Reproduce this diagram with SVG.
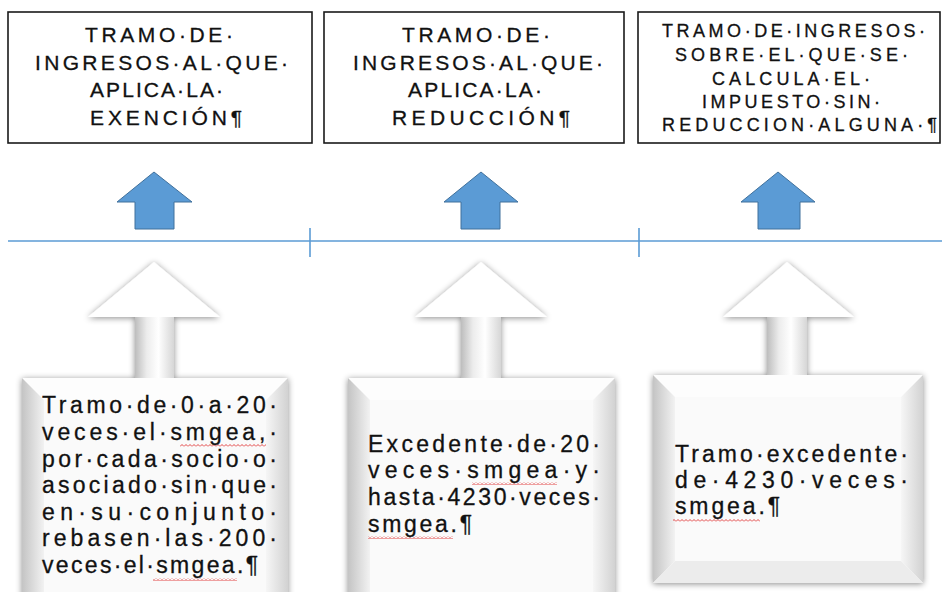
<svg xmlns="http://www.w3.org/2000/svg" width="942" height="592" viewBox="0 0 942 592">
<style>
.hdr{fill:#fff;stroke:#1a1a1a;stroke-width:1.6}
.ht{font-family:"Liberation Sans",Arial,sans-serif;font-size:21px;fill:#111;stroke:#111;stroke-width:0.3}
.ht3{font-family:"Liberation Sans",Arial,sans-serif;font-size:18px;fill:#111;stroke:#111;stroke-width:0.3}
.bt{font-family:"Liberation Sans",Arial,sans-serif;font-size:23px;fill:#111;stroke:#111;stroke-width:0.3}
.blue{fill:#5b9bd5;stroke:#41719c;stroke-width:1}
.tl{stroke:#5b9bd5;stroke-width:1.6;fill:none}
.shape{fill:#fff;filter:url(#sh)}
.face{fill:#fafafa}
.topb{fill:#fdfdfd}
.leftb{fill:url(#gl)}
.rightb{fill:url(#gr)}
.shaft{fill:url(#gs)}
.sq{fill:url(#wave)}
</style>
<defs>
<filter id="sh" x="-20%" y="-20%" width="140%" height="140%">
<feDropShadow dx="0" dy="1" stdDeviation="3" flood-color="#000" flood-opacity="0.45"/>
</filter>
<linearGradient id="gl" x1="0" x2="1" y1="0" y2="0">
<stop offset="0" stop-color="#c4c4c4"/><stop offset="1" stop-color="#f2f2f2"/>
</linearGradient>
<linearGradient id="gr" x1="0" x2="1" y1="0" y2="0">
<stop offset="0" stop-color="#f6f6f6"/><stop offset="1" stop-color="#d2d2d2"/>
</linearGradient>
<linearGradient id="gs" x1="0" x2="1" y1="0" y2="0">
<stop offset="0" stop-color="#bdbdbd"/><stop offset="0.3" stop-color="#ececec"/><stop offset="0.6" stop-color="#fff"/><stop offset="1" stop-color="#d6d6d6"/>
</linearGradient>
<pattern id="wave" width="4" height="3" patternUnits="userSpaceOnUse">
<path d="M0,2.5 L2,0.5 L4,2.5" fill="none" stroke="#e03030" stroke-width="0.9"/>
</pattern>
</defs>

<!-- Header boxes -->
<g id="header1">
<rect class="hdr" x="8" y="12" width="304" height="131"/>
<text class="ht" x="85" y="42" textLength="148" lengthAdjust="spacing">TRAMO·DE·</text>
<text class="ht" x="35" y="70" textLength="253" lengthAdjust="spacing">INGRESOS·AL·QUE·</text>
<text class="ht" x="90" y="97" textLength="133" lengthAdjust="spacing">APLICA·LA·</text>
<text class="ht" x="90" y="125" textLength="152" lengthAdjust="spacing">EXENCIÓN¶</text>
</g>
<g id="header2">
<rect class="hdr" x="324" y="12" width="300" height="131"/>
<text class="ht" x="402" y="42" textLength="148" lengthAdjust="spacing">TRAMO·DE·</text>
<text class="ht" x="353" y="70" textLength="250" lengthAdjust="spacing">INGRESOS·AL·QUE·</text>
<text class="ht" x="408" y="97" textLength="134" lengthAdjust="spacing">APLICA·LA·</text>
<text class="ht" x="392" y="125" textLength="178" lengthAdjust="spacing">REDUCCIÓN¶</text>
</g>
<g id="header3">
<rect class="hdr" x="638" y="12" width="302" height="131"/>
<text class="ht3" x="662" y="37" textLength="263" lengthAdjust="spacing">TRAMO·DE·INGRESOS·</text>
<text class="ht3" x="675" y="61" textLength="233" lengthAdjust="spacing">SOBRE·EL·QUE·SE·</text>
<text class="ht3" x="712" y="85" textLength="158" lengthAdjust="spacing">CALCULA·EL·</text>
<text class="ht3" x="702" y="108" textLength="178" lengthAdjust="spacing">IMPUESTO·SIN·</text>
<text class="ht3" x="662" y="131" textLength="275" lengthAdjust="spacing">REDUCCION·ALGUNA·¶</text>
</g>

<!-- Connectors: blue arrows and timeline -->
<g id="connectors">
<path class="blue" d="M154,172 L192,202 L174,202 L174,229 L135,229 L135,202 L117,202 Z"/>
<path class="blue" d="M481,172 L518,202 L500,202 L500,229 L461,229 L461,202 L444,202 Z"/>
<path class="blue" d="M778,172 L815,202 L800,202 L800,229 L758,229 L758,202 L741,202 Z"/>
<line class="tl" x1="8" y1="241" x2="942" y2="241"/>
<line class="tl" x1="310" y1="228" x2="310" y2="257"/>
<line class="tl" x1="639" y1="228" x2="639" y2="257"/>
</g>

<!-- Bottom callouts -->
<g id="callout1">
<path class="shape" d="M154,262 L220,317 L174,317 L174,378 L288,378 L288,610 L22,610 L22,378 L135,378 L135,317 L88,317 Z"/>
<rect class="shaft" x="135" y="317" width="39" height="62"/>
<polygon class="topb" points="22,378 288,378 266,400 44,400"/>
<polygon class="leftb" points="22,378 44,400 44,610 22,610"/>
<polygon class="rightb" points="288,378 266,400 266,610 288,610"/>
<rect class="face" x="44" y="400" width="222" height="210"/>
<rect class="sq" x="180" y="444" width="86" height="3"/>
<rect class="sq" x="153" y="578" width="84" height="3"/>
<text class="bt" x="42" y="413" textLength="235" lengthAdjust="spacing">Tramo·de·0·a·20·</text>
<text class="bt" x="42" y="440" textLength="235" lengthAdjust="spacing">veces·el·smgea,·</text>
<text class="bt" x="42" y="467" textLength="235" lengthAdjust="spacing">por·cada·socio·o·</text>
<text class="bt" x="42" y="493" textLength="235" lengthAdjust="spacing">asociado·sin·que·</text>
<text class="bt" x="42" y="520" textLength="235" lengthAdjust="spacing">en·su·conjunto·</text>
<text class="bt" x="42" y="546" textLength="235" lengthAdjust="spacing">rebasen·las·200·</text>
<text class="bt" x="42" y="573" textLength="216" lengthAdjust="spacing">veces·el·smgea.¶</text>
</g>

<g id="callout2">
<path class="shape" d="M481,262 L547,317 L501,317 L501,378 L615,378 L615,610 L348,610 L348,378 L461,378 L461,317 L415,317 Z"/>
<rect class="shaft" x="461" y="317" width="40" height="62"/>
<polygon class="topb" points="348,378 615,378 593,400 370,400"/>
<polygon class="leftb" points="348,378 370,400 370,610 348,610"/>
<polygon class="rightb" points="615,378 593,400 593,610 615,610"/>
<rect class="face" x="370" y="400" width="223" height="210"/>
<rect class="sq" x="472" y="482" width="85" height="3"/>
<rect class="sq" x="368" y="536" width="85" height="3"/>
<text class="bt" x="368" y="452" textLength="232" lengthAdjust="spacing">Excedente·de·20·</text>
<text class="bt" x="368" y="478" textLength="232" lengthAdjust="spacing">veces·smgea·y·</text>
<text class="bt" x="368" y="505" textLength="232" lengthAdjust="spacing">hasta·4230·veces·</text>
<text class="bt" x="368" y="532" textLength="104" lengthAdjust="spacing">smgea.¶</text>
</g>

<g id="callout3">
<path class="shape" d="M787,262 L854,317 L807,317 L807,375 L923,375 L923,583 L653,583 L653,375 L767,375 L767,317 L723,317 Z"/>
<rect class="shaft" x="767" y="317" width="40" height="59"/>
<polygon class="topb" points="653,375 923,375 901,397 675,397"/>
<polygon class="leftb" points="653,375 675,397 675,561 653,583"/>
<polygon class="rightb" points="923,375 901,397 901,561 923,583"/>
<polygon fill="#ececec" points="653,583 675,561 901,561 923,583"/>
<rect class="face" x="675" y="397" width="226" height="164"/>
<rect class="sq" x="673" y="519" width="87" height="3"/>
<text class="bt" x="675" y="462" textLength="233" lengthAdjust="spacing">Tramo·excedente·</text>
<text class="bt" x="675" y="488" textLength="233" lengthAdjust="spacing">de·4230·veces·</text>
<text class="bt" x="675" y="514" textLength="105" lengthAdjust="spacing">smgea.¶</text>
</g>
</svg>
